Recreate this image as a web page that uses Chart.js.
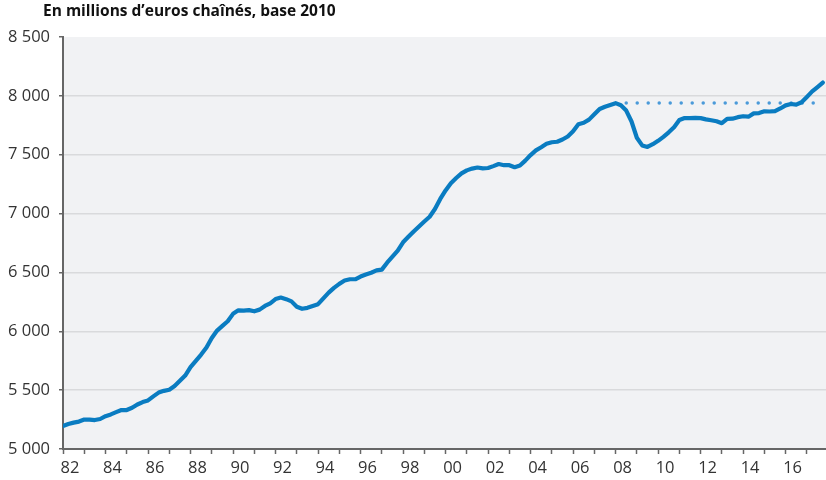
<!DOCTYPE html>
<html>
<head>
<meta charset="utf-8">
<script src="https://cdn.jsdelivr.net/npm/chart.js@4"></script>
<style>
  html, body { margin: 0; background: #fff; }
</style>
</head>
<body>
<canvas id="chart1" width="826" height="480"></canvas>
<script>
// quarterly series, 1982 Q1 -> 2017 Q4
const startYear = 1982;
const values = [
  5195, 5212, 5224, 5233, 5250, 5250, 5246, 5255,
  5279, 5294, 5313, 5331, 5331, 5350, 5378, 5399,
  5413, 5447, 5479, 5494, 5503, 5535, 5579, 5624,
  5695, 5749, 5802, 5862, 5943, 6006, 6046, 6085,
  6148, 6178, 6175, 6180, 6170, 6184, 6215, 6238,
  6274, 6287, 6273, 6254, 6209, 6191, 6199, 6214,
  6230, 6280, 6328, 6369, 6403, 6431, 6442, 6442,
  6465, 6482, 6497, 6517, 6524, 6583, 6634, 6685,
  6756, 6803, 6848, 6891, 6933, 6973, 7039, 7124,
  7197, 7258, 7302, 7341, 7367, 7382, 7391, 7384,
  7387, 7403, 7421, 7411, 7411, 7394, 7408, 7450,
  7497, 7537, 7564, 7593, 7606, 7610, 7629, 7655,
  7699, 7759, 7771, 7798, 7843, 7888, 7907, 7923,
  7938, 7920, 7875, 7782, 7644, 7579, 7566, 7589,
  7618, 7652, 7690, 7733, 7795, 7812, 7811, 7813,
  7811, 7800, 7793, 7784, 7768, 7805, 7806, 7819,
  7827, 7823, 7851, 7854, 7869, 7867, 7871, 7893,
  7919, 7931, 7926, 7946, 7991, 8038, 8075, 8113
];
// pre-crisis peak level, shown as dotted reference
const refValue = 7940;
const refStart = 2008.5;
const refEnd = 2017.4;

const years = [1982, 1983, 1984, 1985, 1986, 1987, 1988, 1989, 1990, 1991, 1992, 1993,
  1994, 1995, 1996, 1997, 1998, 1999, 2000, 2001, 2002, 2003, 2004, 2005,
  2006, 2007, 2008, 2009, 2010, 2011, 2012, 2013, 2014, 2015, 2016, 2017];
const yearLabels = ['82', '84', '86', '88', '90', '92', '94', '96', '98',
  '00', '02', '04', '06', '08', '10', '12', '14', '16'];
const yTicks = [5000, 5500, 6000, 6500, 7000, 7500, 8000, 8500];

const points = values.map((v, i) => ({ x: startYear + i / 4, y: v }));

const plotBg = {
  id: 'plotBg',
  beforeDraw(chart) {
    const a = chart.chartArea, c = chart.ctx;
    c.save();
    c.fillStyle = '#f1f2f4';
    c.fillRect(a.left, a.top, a.right - a.left, a.bottom - a.top);
    c.restore();
  }
};

const unitTitle = {
  id: 'unitTitle',
  afterDraw(chart) {
    const c = chart.ctx;
    c.save();
    c.font = 'bold 15.5px "Open Sans"';
    c.fillStyle = '#111';
    c.textBaseline = 'middle';
    c.fillText('En millions d\u2019euros chaînés, base 2010', 43, 12);
    c.restore();
  }
};

const ctx1 = document.getElementById('chart1').getContext('2d');
const chart1 = new Chart(ctx1, {
  type: 'line',
  data: {
    datasets: [{
      data: points,
      borderColor: '#0a7cc1',
      borderWidth: 4.2,
      pointRadius: 0,
      tension: 0,
      borderJoinStyle: 'round',
      borderCapStyle: 'round'
    },
    {
      data: [{ x: refStart, y: refValue }, { x: refEnd, y: refValue }],
      borderColor: '#4a9ad9',
      borderWidth: 3.5,
      borderDash: [0, 11],
      borderCapStyle: 'round',
      pointRadius: 0
    }]
  },
  options: {
    responsive: false,
    animation: false,
    layout: { padding: { top: 37, right: 0, left: 0, bottom: 0 } },
    plugins: {
      legend: { display: false },
      tooltip: { enabled: false }
    },
    scales: {
      x: {
        type: 'linear',
        min: startYear,
        max: 2017.9,
        afterBuildTicks: (s) => { s.ticks = years.map(v => ({ value: v })); },
        afterFit: (s) => { s.height = 31; },
        border: { color: '#666', width: 2 },
        grid: { drawOnChartArea: false, tickLength: 5, tickColor: '#666', tickWidth: 1.5 },
        ticks: {
          autoSkip: false,
          maxRotation: 0,
          labelOffset: 7,
          padding: 4,
          color: '#333',
          font: { family: 'Open Sans', size: 16.5 },
          callback: (v) => {
            const i = years.indexOf(v);
            return (i % 2 === 0) ? yearLabels[i / 2] : '';
          }
        }
      },
      y: {
        min: 5000,
        max: 8500,
        afterBuildTicks: (s) => { s.ticks = yTicks.map(v => ({ value: v })); },
        afterFit: (s) => { s.width = 63; },
        border: { color: '#666', width: 2 },
        grid: {
          color: (c) => c.tick && c.tick.value === 8500 ? 'rgba(0,0,0,0)' : '#d9dadc',
          lineWidth: 1.5,
          tickLength: 4,
          tickColor: '#666'
        },
        ticks: {
          padding: 9,
          color: '#333',
          font: { family: 'Open Sans', size: 16.5 },
          callback: (v) => String(v).replace(/\B(?=(\d{3})+(?!\d))/g, ' ')
        }
      }
    }
  },
  plugins: [plotBg, unitTitle]
});
</script>
</body>
</html>
